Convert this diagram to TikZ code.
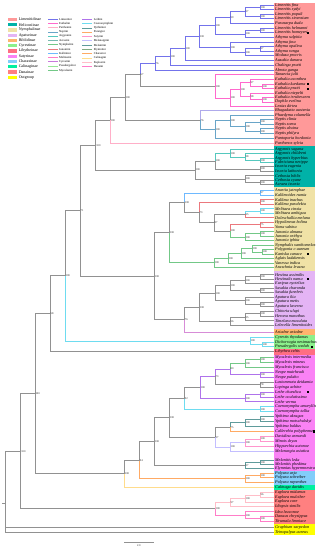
\documentclass[tikz,border=0pt]{standalone}
\usepackage{fontspec}
\setmainfont{Liberation Serif}
\usetikzlibrary{calc}
\definecolor{grC}{RGB}{145,145,145}
\definecolor{limC}{RGB}{115,115,235}
\definecolor{eutC}{RGB}{255,105,205}
\definecolor{parC}{RGB}{255,175,200}
\definecolor{nepC}{RGB}{105,165,200}
\definecolor{bhaC}{RGB}{175,170,235}
\definecolor{argC}{RGB}{85,200,190}
\definecolor{acrC}{RGB}{120,185,175}
\definecolor{cyaC}{RGB}{110,220,240}
\definecolor{kalC}{RGB}{110,185,255}
\definecolor{melC}{RGB}{235,120,125}
\definecolor{grnC}{RGB}{115,200,135}
\definecolor{lgrC}{RGB}{150,230,150}
\definecolor{purC}{RGB}{175,115,235}
\definecolor{oraC}{RGB}{255,170,100}
\definecolor{pnkC}{RGB}{255,150,205}
\definecolor{lavC}{RGB}{195,190,255}
\definecolor{yptC}{RGB}{95,155,155}
\definecolor{elmC}{RGB}{130,170,130}
\definecolor{yelC}{RGB}{255,220,140}
\definecolor{eupC}{RGB}{255,190,200}
\definecolor{danC}{RGB}{255,125,200}
\definecolor{bibC}{RGB}{215,140,215}
\definecolor{cyrC}{RGB}{200,120,220}
\definecolor{bxLim}{RGB}{255,153,153}
\definecolor{bxHel}{RGB}{0,178,168}
\definecolor{bxNym}{RGB}{240,226,166}
\definecolor{bxApa}{RGB}{228,180,245}
\definecolor{bxBib}{RGB}{255,180,110}
\definecolor{bxCyr}{RGB}{140,240,140}
\definecolor{bxLib}{RGB}{255,110,130}
\definecolor{bxSat}{RGB}{250,130,245}
\definecolor{bxCha}{RGB}{130,205,250}
\definecolor{bxCal}{RGB}{0,240,160}
\definecolor{bxDan}{RGB}{255,128,128}
\definecolor{bxOut}{RGB}{255,255,0}
\tikzset{
 ln/.style={line width=0.8pt, line cap=rect},
 gr/.style={ln, draw=grC, line width=0.9pt},
 lim/.style={ln, draw=limC}, eut/.style={ln, draw=eutC}, par/.style={ln, draw=parC},
 nep/.style={ln, draw=nepC}, bha/.style={ln, draw=bhaC}, arg/.style={ln, draw=argC},
 acr/.style={ln, draw=acrC}, cya/.style={ln, draw=cyaC}, kal/.style={ln, draw=kalC},
 mel/.style={ln, draw=melC}, grn/.style={ln, draw=grnC}, lgr/.style={ln, draw=lgrC},
 pur/.style={ln, draw=purC}, ora/.style={ln, draw=oraC}, pnk/.style={ln, draw=pnkC},
 lav/.style={ln, draw=lavC}, ypt/.style={ln, draw=yptC}, elm/.style={ln, draw=elmC},
 yel/.style={ln, draw=yelC}, eup/.style={ln, draw=eupC}, dan/.style={ln, draw=danC},
 bib/.style={ln, draw=bibC}, cyr/.style={ln, draw=cyrC},
 leaf/.style={anchor=west, inner sep=0pt, font=\fontsize{4.2}{4.2}\selectfont\itshape},
 bs/.style={anchor=west, inner sep=0.4pt, font=\fontsize{2.8}{2.8}\selectfont, text=black!85},
 sqm/.style={fill=black, inner sep=0pt, minimum size=2.3pt, rectangle},
 lgA/.style={anchor=west, inner sep=0pt, font=\fontsize{4}{4}\selectfont},
 lgB/.style={anchor=west, inner sep=0pt, font=\fontsize{3}{3}\selectfont},
}
\newcommand\mkclade[7]{%
 \path let \p1=(#3), \p2=(#4) in coordinate (#1) at (#2pt,{(\y1+\y2)/2});
 \draw[#5] (#1) |- (#3);
 \draw[#6] (#1) |- (#4);
 \node[bs] (b#1) at (#1) {#7};
}
\begin{document}
\begin{tikzpicture}[x=1pt,y=-1pt]
\useasboundingbox (0,0) rectangle (320,550);
\fill[white] (0,0) rectangle (320,550);
% subfamily boxes
\fill[bxLim] (274,2.5) rectangle (315,146);
\fill[bxHel] (274,146) rectangle (315,187);
\fill[bxNym] (274,187) rectangle (315,271);
\fill[bxApa] (274,271) rectangle (315,329);
\fill[bxBib] (274,329) rectangle (315,335);
\fill[bxCyr] (274,335) rectangle (315,349.3);
\fill[bxLib] (274,349.3) rectangle (315,354.5);
\fill[bxSat] (274,354.5) rectangle (315,470.8);
\fill[bxCha] (274,470.8) rectangle (315,484.8);
\fill[bxCal] (274,484.8) rectangle (315,490);
\fill[bxDan] (274,490) rectangle (315,524);
\fill[bxOut] (274,524) rectangle (315,535);
% legend
\foreach \k/\c/\t in {0/bxLim/Limenitidinae,1/bxHel/Heliconiinae,2/bxNym/Nymphalinae,3/bxApa/Apaturinae,4/bxBib/Biblidinae,5/bxCyr/Cyrestinae,6/bxLib/Libytheinae,7/bxSat/Satyrinae,8/bxCha/Charaxinae,9/bxCal/Calinaginae,10/bxDan/Danainae,11/bxOut/Outgroup}{
 \fill[\c] (8.3,{19.5+\k*5.25-1.7}) rectangle (17,{19.5+\k*5.25+1.7});
 \node[lgA] (la\k) at (18.6,{19.5+\k*5.25}) {\t};
}
\foreach \k/\c/\t in {0/lim/Limenitini,1/eut/Euthalini,2/par/Parthenini,3/nep/Neptini,4/arg/Argynnini,5/acr/Acraeini,6/grn/Nymphalini,7/mel/Junoniini,8/kal/Kallimini,9/dan/Melitaeini,10/cyr/Cyrestini,11/lgr/Pseudergolini,12/grn/Mycalesini}{
 \coordinate (mA\k) at (48.3,{19.3+\k*4.25});
 \coordinate (mB\k) at (57.3,{19.3+\k*4.25});
 \draw[\c] (mA\k) -- (mB\k);
 \node[lgB] (lm\k) at (59,{19.3+\k*4.25}) {\t};
}
\foreach \k/\c/\t in {0/pur/Lethini,1/cya/Coenonymphini,2/ypt/Ypthimini,3/ora/Parargini,4/pnk/Satyrini,5/lav/Melanargiini,6/ypt/Melanitini,7/elm/Elymniini,8/ora/Charaxini,9/yel/Calinagini,10/eup/Euploeini,11/dan/Danaini}{
 \coordinate (rA\k) at (82.3,{19.3+\k*4.3});
 \coordinate (rB\k) at (91.7,{19.3+\k*4.3});
 \draw[\c] (rA\k) -- (rB\k);
 \node[lgB] (lr\k) at (93.6,{19.3+\k*4.3}) {\t};
}
% leaves
\foreach \i/\y/\t in {1/5.0/Limenitis fina,2/9.4/Limenitis sydyi,3/14.0/Limenitis populi,4/18.5/Limenitis sinensium,5/23.2/Parasarpa dudu,6/27.9/Limenitis helmanni,7/32.8/Limenitis homeyeri,8/37.5/Athyma sulpitia,9/42.0/Athyma jina,10/46.5/Athyma opalina,11/51.0/Athyma ranga,12/55.7/Moduza procris,13/60.5/Auzakia danava,14/65.2/Chalinga pratti,15/70.0/Abrota ganga,16/74.7/Tanaecia julii,17/79.3/Euthalia aconthea,18/84.0/Euthalia kardama,19/88.7/Euthalia pratti,20/93.2/Euthalia niepelti,21/97.5/Euthalia irrubescens,22/101.9/Dophla evelina,23/106.3/Lexias dirtea,24/110.7/Bhagadatta austenia,25/115.2/Phaedyma columella,26/119.8/Neptis clinia,27/124.3/Neptis soma,28/128.8/Neptis alwina,29/133.4/Neptis philyra,30/138.4/Pantoporia hordonia,31/143.3/Parthenos sylvia,32/149.3/Argynnis sagana,33/153.6/Argynnis childreni,34/158.0/Argynnis hyperbius,35/162.4/Fabriciana nerippe,36/166.8/Issoria eugenia,37/171.2/Issoria lathonia,38/175.7/Cethosia biblis,39/180.2/Cethosia cyane,40/184.4/Acraea issoria,41/190.8/Anartia jatrophae,42/195.2/Kallimoides rumia,43/199.8/Kallima inachus,44/204.3/Kallima paralekta,45/208.8/Melitaea cinxia,46/213.3/Melitaea ambigua,47/217.8/Doleschallia melana,48/222.6/Hypolimnas bolina,49/227.1/Yoma sabina,50/231.6/Junonia almana,51/236.1/Junonia orithya,52/240.6/Junonia iphita,53/245.1/Nymphalis xanthomelas,54/249.7/Polygonia c-aureum,55/254.1/Kaniska canace,56/258.5/Aglais ladakensis,57/263.0/Vanessa indica,58/267.4/Araschnia levana,59/274.6/Hestina assimilis,60/279.2/Hestinalis nama,61/283.7/Euripus nyctelius,62/288.2/Sasakia charonda,63/292.7/Sasakia funebris,64/297.3/Apatura ilia,65/302.0/Apatura metis,66/306.7/Apatura laverna,67/311.4/Chitoria ulupi,68/316.0/Herona marathus,69/320.6/Timelaea maculata,70/325.2/Lelecella limenitoides,71/332.3/Ariadne ariadne,72/337.7/Cyrestis thyodamas,73/342.2/Dichorragia nesimachus,74/346.7/Pseudergolis wedah,75/351.7/Libythea celtis,76/357.3/Mycalesis intermedia,77/362.25/Mycalesis mineus,78/367.2/Mycalesis francisca,79/372.15/Neope muirheadi,80/377.1/Neope pulaho,81/382.05/Lasiommata deidamia,82/387.0/Lopinga achine,83/391.95/Lethe chandica,84/396.9/Lethe oculatissima,85/401.85/Lethe verma,86/406.8/Coenonympha amaryllis,87/411.75/Coenonympha tullia,88/416.7/Ypthima akragas,89/421.65/Ypthima motschulskyi,90/426.6/Ypthima baldus,91/431.55/Callerebia polyphemus,92/436.5/Davidina armandi,93/441.45/Minois dryas,94/446.4/Hipparchia autonoe,95/451.35/Melanargia asiatica,96/460.0/Melanitis leda,97/464.3/Melanitis phedima,98/468.6/Elymnias hypermnestra,99/473.1/Polyura arja,100/477.6/Polyura schreiber,101/482.2/Polyura nepenthes,102/487.3/Calinaga davidis,103/492.7/Euploea midamus,104/497.2/Euploea mulciber,105/501.9/Euploea core,106/506.8/Idiopsis similis,107/511.7/Idea leuconoe,108/516.4/Danaus chrysippus,109/521.1/Tirumala limniace,110/527.0/Graphium sarpedon,111/532.3/Teinopalpus aureus}{
 \coordinate (L\i) at (274,\y);
 \node[leaf] (T\i) at (275,\y) {\t};
}
\foreach \i/\xx in {7/308,18/308,19/308,55/308,60/308,74/312,83/308,91/314.3}{
 \path (L\i) ++({\xx-274},0) node[sqm] (M\i) {};
}
% Limenitini
\mkclade{n1}{260}{L1}{L2}{lim}{lim}{100}
\mkclade{n2}{260}{L3}{L4}{lim}{lim}{100}
\mkclade{n3}{245}{n1}{n2}{lim}{lim}{97}
\mkclade{n4}{230}{n3}{L5}{lim}{lim}{99}
\mkclade{n5}{260}{L6}{L7}{lim}{lim}{100}
\mkclade{n6}{245}{n5}{L8}{lim}{lim}{100}
\mkclade{n7}{215}{n4}{n6}{lim}{lim}{100}
\mkclade{n8}{260}{L10}{L11}{lim}{lim}{97}
\mkclade{n9}{245}{n8}{L12}{lim}{lim}{100}
\mkclade{n9b}{230}{L9}{n9}{lim}{lim}{100}
\mkclade{n10}{199.3}{n7}{n9b}{lim}{lim}{100}
\mkclade{n11}{185}{n10}{L13}{lim}{lim}{100}
\mkclade{n12}{170}{n11}{L14}{lim}{lim}{100}
\mkclade{n13}{155}{n12}{L15}{lim}{lim}{76}
% Euthalini
\mkclade{e1}{262}{L18}{L19}{eut}{eut}{100}
\mkclade{e2}{250}{L17}{e1}{eut}{eut}{97}
\mkclade{e3}{262}{L21}{L22}{eut}{eut}{100}
\mkclade{e4}{250}{L20}{e3}{eut}{eut}{98}
\mkclade{e5}{240}{e2}{e4}{eut}{eut}{100}
\mkclade{e6}{230}{e5}{L23}{eut}{eut}{100}
\mkclade{e7}{215}{L16}{e6}{eut}{eut}{100}
\mkclade{n14}{140}{n13}{e7}{lim}{gr}{67}
% Neptini
\mkclade{nA}{260}{L26}{L27}{nep}{nep}{100}
\mkclade{nB}{260}{L28}{L29}{nep}{nep}{100}
\mkclade{nC}{245}{nA}{nB}{nep}{nep}{100}
\mkclade{nD}{230}{L25}{nC}{nep}{nep}{100}
\mkclade{nE}{215}{nD}{L30}{nep}{nep}{100}
\mkclade{nF}{200}{L24}{nE}{bha}{nep}{76}
\mkclade{nA0}{125}{n14}{nF}{gr}{gr}{100}
\mkclade{nB0}{110}{nA0}{L31}{gr}{par}{100}
% Heliconiinae
\mkclade{h2}{260}{L34}{L35}{arg}{arg}{100}
\mkclade{h3}{245}{L33}{h2}{arg}{arg}{98}
\mkclade{h4}{230}{L32}{h3}{arg}{arg}{100}
\mkclade{h5}{260}{L36}{L37}{gr}{gr}{100}
\mkclade{h6}{215}{h4}{h5}{arg}{gr}{100}
\mkclade{h7}{260}{L39}{L40}{gr}{gr}{100}
\mkclade{h8}{245}{L38}{h7}{gr}{gr}{100}
\mkclade{h9}{195}{h6}{h8}{gr}{gr}{100}
\mkclade{nC0}{95.7}{nB0}{h9}{gr}{gr}{100}
% Nymphalinae
\mkclade{y1}{260}{L41}{L42}{kal}{kal}{97}
\mkclade{y2}{260}{L43}{L44}{mel}{mel}{100}
\mkclade{y3}{260}{L45}{L46}{cya}{cya}{100}
\mkclade{y4}{245}{y3}{L47}{cya}{mel}{95}
\mkclade{y5}{260}{L48}{L49}{mel}{mel}{75}
\mkclade{y6}{260}{L50}{L51}{grn}{grn}{100}
\mkclade{y7}{245}{y6}{L52}{grn}{grn}{100}
\mkclade{y8}{230}{y5}{y7}{mel}{grn}{100}
\mkclade{y9}{214}{y4}{y8}{gr}{gr}{87}
\mkclade{y10}{199}{y2}{y9}{mel}{gr}{73}
\mkclade{y11}{184.3}{y1}{y10}{kal}{gr}{100}
\mkclade{z1}{262}{L54}{L55}{grn}{grn}{100}
\mkclade{z2}{252}{L53}{z1}{grn}{grn}{100}
\mkclade{z3}{241}{z2}{L56}{grn}{grn}{100}
\mkclade{z4}{228}{z3}{L57}{grn}{grn}{100}
\mkclade{z5}{214}{z4}{L58}{grn}{grn}{100}
\mkclade{ny}{169.3}{y11}{z5}{gr}{grn}{100}
% Apaturinae + Biblidinae
\mkclade{a1}{260}{L59}{L60}{gr}{gr}{100}
\mkclade{a2}{245}{a1}{L61}{gr}{gr}{100}
\mkclade{a3}{260}{L62}{L63}{gr}{gr}{100}
\mkclade{a4}{230}{a2}{a3}{gr}{gr}{100}
\mkclade{a5}{260}{L65}{L66}{gr}{gr}{100}
\mkclade{a6}{245}{L64}{a5}{gr}{gr}{100}
\mkclade{a7}{215}{a4}{a6}{gr}{gr}{100}
\mkclade{a8}{260}{L67}{L68}{gr}{gr}{100}
\mkclade{a9}{245}{a8}{L69}{gr}{gr}{95}
\mkclade{a10}{230}{a9}{L70}{gr}{gr}{96}
\mkclade{a11}{199.3}{a7}{a10}{gr}{gr}{100}
\mkclade{ar}{184.3}{a11}{L71}{gr}{bib}{76}
\mkclade{nq}{154.3}{ny}{ar}{gr}{gr}{100}
\mkclade{nD0}{80}{nC0}{nq}{gr}{gr}{71}
% Cyrestinae, Libytheinae
\mkclade{c1}{262}{L73}{L74}{cya}{cya}{100}
\mkclade{c2}{250}{L72}{c1}{cya}{cya}{100}
\mkclade{nE0}{65}{nD0}{c2}{gr}{cya}{100}
\mkclade{nF0}{50}{nE0}{L75}{gr}{gr}{58}
% Satyrinae
\mkclade{s1}{260}{L76}{L77}{grn}{grn}{100}
\mkclade{s2}{245}{s1}{L78}{grn}{grn}{100}
\mkclade{s3}{260}{L79}{L80}{pur}{pur}{100}
\mkclade{s5}{230}{s2}{s3}{grn}{pur}{80}
\mkclade{s4}{260}{L81}{L82}{gr}{gr}{78}
\mkclade{s6}{215}{s5}{s4}{pur}{gr}{73}
\mkclade{s7}{260}{L83}{L84}{pur}{pur}{100}
\mkclade{s8}{245}{s7}{L85}{pur}{pur}{100}
\mkclade{s9}{200}{s6}{s8}{pur}{pur}{100}
\mkclade{co}{260}{L86}{L87}{cya}{cya}{100}
\mkclade{sM}{184.3}{s9}{co}{gr}{cya}{92}
\mkclade{t1}{260}{L88}{L89}{ypt}{ypt}{100}
\mkclade{t2}{245}{t1}{L90}{ypt}{ypt}{100}
\mkclade{t3}{230}{t2}{L91}{ypt}{ora}{75}
\mkclade{t4}{260}{L92}{L93}{pnk}{pnk}{100}
\mkclade{t5}{245}{t4}{L94}{pnk}{pnk}{100}
\mkclade{t6}{230}{t5}{L95}{lav}{lav}{100}
\mkclade{sP}{215}{t3}{t6}{gr}{lav}{97}
\mkclade{sL}{169.3}{sM}{sP}{gr}{gr}{100}
\mkclade{m1}{260}{L96}{L97}{ypt}{ypt}{100}
\mkclade{m2}{245}{m1}{L98}{ypt}{ypt}{97}
\mkclade{sK}{154.3}{sL}{m2}{gr}{gr}{100}
\mkclade{x1}{260}{L99}{L100}{ora}{ora}{100}
\mkclade{x2}{245}{x1}{L101}{ora}{ora}{100}
\mkclade{sJ}{139.3}{sK}{x2}{gr}{ora}{94}
\mkclade{sI}{124.3}{sJ}{L102}{gr}{yel}{100}
\mkclade{nG0}{35}{nF0}{sI}{gr}{gr}{100}
% Danainae
\mkclade{d1}{260}{L103}{L104}{eup}{eup}{96}
\mkclade{d2}{245}{d1}{L105}{eup}{eup}{100}
\mkclade{d3}{230}{d2}{L106}{eup}{eup}{97}
\mkclade{d4}{260}{L108}{L109}{dan}{dan}{100}
\mkclade{d5}{245}{L107}{d4}{dan}{dan}{100}
\mkclade{d6}{215}{d3}{d5}{eup}{dan}{100}
\mkclade{nH0}{20.7}{nG0}{d6}{gr}{gr}{100}
% root
\coordinate (root) at (5.7,503.6);
\coordinate (rstub) at (2.5,503.6);
\draw[gr] (root) |- (nH0);
\draw[gr] (root) |- (L110);
\draw[gr] (root) |- (L111);
\draw[gr] (rstub) -- (root);
% scale bar
\coordinate (sbA) at (124.3,542.7);
\coordinate (sbB) at (153.3,542.7);
\draw[gr, line width=0.8pt] (sbA) -- (sbB);
\node[bs, anchor=north, yshift=-1.5pt] (sbL) at ($(sbA)!0.5!(sbB)$) {2.0};
\end{tikzpicture}
\end{document}
